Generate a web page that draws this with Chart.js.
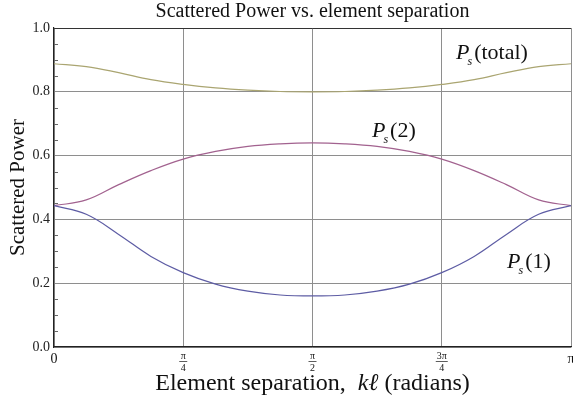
<!DOCTYPE html>
<html>
<head>
<meta charset="utf-8">
<script src="https://cdn.jsdelivr.net/npm/chart.js"></script>
<style>
  html, body { margin: 0; padding: 0; background: #fff; }
  #wrap { width: 573px; height: 401px; }
</style>
</head>
<body>
<div id="wrap"><canvas id="powerChart" width="573" height="401"></canvas></div>
<script>
// Element separation k*l in radians, sampled every pi/16
const separation = [0, 0.196, 0.393, 0.589, 0.785, 0.982, 1.178, 1.374, 1.571,
                    1.767, 1.963, 2.160, 2.356, 2.553, 2.749, 2.945, 3.1416];

const powerOne   = [0.443, 0.416, 0.353, 0.284, 0.233, 0.197, 0.175, 0.163, 0.160,
                    0.163, 0.175, 0.197, 0.233, 0.284, 0.353, 0.416, 0.443];
const powerTwo   = [0.443, 0.461, 0.509, 0.553, 0.589, 0.613, 0.629, 0.637, 0.640,
                    0.637, 0.629, 0.613, 0.589, 0.553, 0.509, 0.461, 0.443];
const powerTotal = [0.888, 0.879, 0.860, 0.838, 0.823, 0.812, 0.805, 0.801, 0.800,
                    0.801, 0.805, 0.812, 0.823, 0.838, 0.860, 0.879, 0.888];

const xTickValues = [0, Math.PI / 4, Math.PI / 2, 3 * Math.PI / 4, Math.PI];
const xTickLabels = ['0', ['\u03C0', '4'], ['\u03C0', '2'], ['3\u03C0', '4'], '\u03C0'];
const yMinorStep = 0.05;

// curve captions: [k*l, power, text inside the brackets]
const curveNames = [
  [2.443, 0.903, 'total'],
  [1.932, 0.658, '2'],
  [2.753, 0.248, '1']
];

const SERIF = '"Liberation Serif", "DejaVu Serif", serif';

function toPoints(ys) {
  return separation.map((x, i) => ({ x: x, y: ys[i] }));
}

function lineSet(label, ys, color) {
  return {
    label: label,
    data: toPoints(ys),
    borderColor: color,
    borderWidth: 1.2,
    pointRadius: 0,
    fill: false,
    tension: 0.4
  };
}

// fraction bars, minor ticks, axis caption and curve names
const decorations = {
  id: 'decorations',
  afterDraw(chart) {
    const ctx = chart.ctx;
    const xs = chart.scales.x;
    const ys = chart.scales.y;
    const area = chart.chartArea;
    ctx.save();

    // bars of the pi fractions under the axis
    ctx.strokeStyle = '#333';
    ctx.lineWidth = 0.8;
    xTickLabels.forEach((lab, i) => {
      if (!Array.isArray(lab)) return;
      const px = xs.getPixelForValue(xTickValues[i]);
      const half = lab[0].length > 1 ? 6 : 4;
      ctx.beginPath();
      ctx.moveTo(px - half, xs.top + 14.5);
      ctx.lineTo(px + half, xs.top + 14.5);
      ctx.stroke();
    });

    // minor ticks on the left axis
    ctx.strokeStyle = '#666';
    ctx.lineWidth = 1;
    for (let v = yMinorStep; v < 1; v += yMinorStep) {
      if (Math.abs(v / 0.2 - Math.round(v / 0.2)) < 1e-6) continue;
      const py = Math.round(ys.getPixelForValue(v)) + 0.5;
      ctx.beginPath();
      ctx.moveTo(area.left, py);
      ctx.lineTo(area.left + 4, py);
      ctx.stroke();
    }

    // x axis caption with italic k and l
    ctx.fillStyle = '#111';
    ctx.textBaseline = 'alphabetic';
    const parts = [
      ['Element separation,  ', 'normal'],
      ['k\u2113', 'italic'],
      [' (radians)', 'normal']
    ];
    let width = 0;
    parts.forEach(p => {
      ctx.font = p[1] + ' 24px ' + SERIF;
      width += ctx.measureText(p[0]).width;
    });
    let cx = (area.left + area.right) / 2 - width / 2;
    parts.forEach(p => {
      ctx.font = p[1] + ' 24px ' + SERIF;
      ctx.textAlign = 'left';
      ctx.fillText(p[0], cx, 390);
      cx += ctx.measureText(p[0]).width;
    });

    // P_s(...) names next to each curve
    curveNames.forEach(n => {
      let px = xs.getPixelForValue(n[0]);
      const py = ys.getPixelForValue(n[1]);
      ctx.font = 'italic 22px ' + SERIF;
      ctx.fillText('P', px, py);
      px += ctx.measureText('P').width - 2;
      ctx.font = 'italic 12px ' + SERIF;
      ctx.fillText('s', px, py + 6);
      px += ctx.measureText('s').width + 2;
      ctx.font = '22px ' + SERIF;
      ctx.fillText('(' + n[2] + ')', px, py);
    });

    ctx.restore();
  }
};

const chart = new Chart(document.getElementById('powerChart'), {
  type: 'line',
  data: {
    datasets: [
      lineSet('Ps(1)', powerOne, '#5d5ca4'),
      lineSet('Ps(2)', powerTwo, '#a2628f'),
      lineSet('Ps(total)', powerTotal, '#aaa571')
    ]
  },
  options: {
    responsive: false,
    animation: false,
    devicePixelRatio: 1,
    layout: { padding: 0 },
    plugins: {
      legend: { display: false },
      tooltip: { enabled: false },
      title: {
        display: true,
        text: 'Scattered Power vs. element separation',
        fullSize: false,
        color: '#111',
        font: { family: SERIF, size: 20, weight: 'normal', lineHeight: 1.2 },
        padding: { top: 0, bottom: 4 }
      }
    },
    scales: {
      x: {
        type: 'linear',
        min: 0,
        max: Math.PI,
        afterBuildTicks: scale => {
          scale.ticks = xTickValues.map(v => ({ value: v }));
        },
        afterFit: scale => {
          scale.height = 54;
          scale.paddingRight = 2;
        },
        border: { color: '#222', width: 1.2 },
        grid: {
          drawTicks: false,
          color: '#8e8e8e',
          lineWidth: 1
        },
        ticks: {
          autoSkip: false,
          maxRotation: 0,
          padding: 4,
          color: '#111',
          font: c => {
            const big = c.index === 0 || c.index === xTickValues.length - 1;
            return { family: SERIF, size: big ? 14 : 10, lineHeight: big ? 1.2 : 1.15 };
          },
          callback: (value, i) => xTickLabels[i]
        }
      },
      y: {
        min: 0,
        max: 1,
        afterFit: scale => { scale.width = 54; },
        border: { color: '#222', width: 1.2 },
        grid: {
          drawTicks: false,
          color: c => (c.tick && c.tick.value === 1 ? '#333' : '#8e8e8e'),
          lineWidth: 1
        },
        ticks: {
          stepSize: 0.2,
          padding: 4,
          color: '#222',
          font: { family: SERIF, size: 14 },
          callback: v => v.toFixed(1)
        },
        title: {
          display: true,
          text: 'Scattered Power',
          color: '#111',
          font: { family: SERIF, size: 21, lineHeight: 1.2 },
          padding: { top: 6, bottom: 0 }
        }
      }
    }
  },
  plugins: [decorations]
});
</script>
</body>
</html>
